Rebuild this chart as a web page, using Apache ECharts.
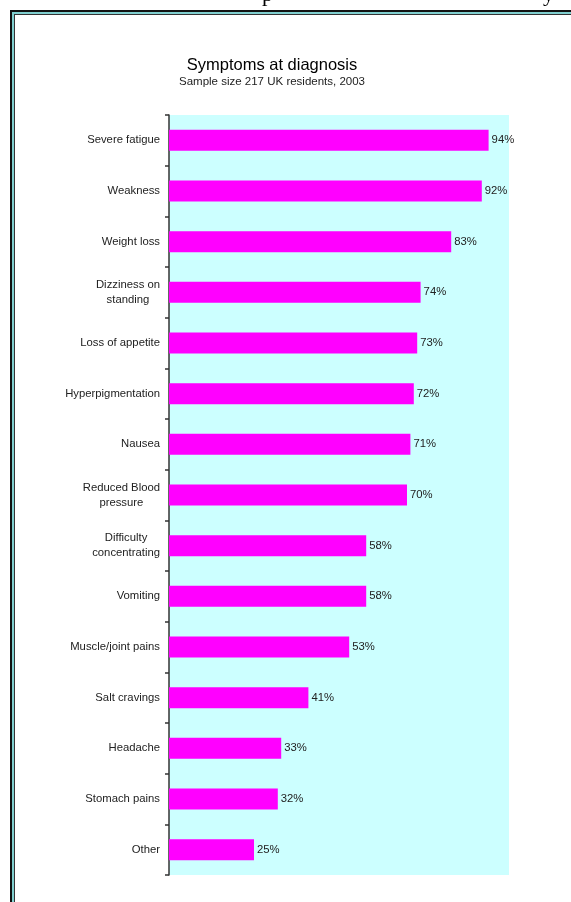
<!DOCTYPE html>
<html>
<head>
<meta charset="utf-8">
<script src="https://cdn.jsdelivr.net/npm/echarts@6/dist/echarts.min.js"></script>
<style>html,body{margin:0;padding:0;background:#fff;}#c{width:571px;height:902px;}</style>
</head>
<body>
<div id="c"></div>
<script>
const categories = ["Severe fatigue","Weakness","Weight loss","Dizziness on\nstanding","Loss of appetite","Hyperpigmentation","Nausea","Reduced Blood\npressure","Difficulty\nconcentrating","Vomiting","Muscle/joint pains","Salt cravings","Headache","Stomach pains","Other"];
const values = [94,92,83,74,73,72,71,70,58,58,53,41,33,32,25];
const titleText = "Symptoms at diagnosis";
const subtitleText = "Sample size 217 UK residents, 2003";

const FONT = '"Liberation Sans", Arial, sans-serif';
const chart = echarts.init(document.getElementById('c'), null, {renderer:'canvas'});
chart.setOption({
  backgroundColor: '#ffffff',
  animation: false,
  graphic: [
    {type:'rect', z:-10, shape:{x:10,y:10,width:700,height:1000}, style:{fill:'#111'}},
    {type:'rect', z:-10, shape:{x:12,y:12,width:700,height:1000}, style:{fill:'#80cfcf'}},
    {type:'rect', z:-10, shape:{x:14,y:14,width:700,height:1000}, style:{fill:'#333'}},
    {type:'rect', z:-10, shape:{x:15,y:15,width:700,height:1000}, style:{fill:'#ffffff'}},
    {type:'text', z:-9, x:262, y:-16, style:{text:'p', font:'22px "Liberation Serif", serif', fill:'#000'}},
    {type:'text', z:-9, x:543, y:-16, style:{text:'y', font:'22px "Liberation Serif", serif', fill:'#000'}},
    {type:'text', x:272, y:65, style:{text:titleText, font:'16.5px ' + FONT, fill:'#000', align:'center', verticalAlign:'middle'}},
    {type:'text', x:272, y:82, style:{text:subtitleText, font:'11.5px ' + FONT, fill:'#222', align:'center', verticalAlign:'middle'}}
  ],
  grid: {left:169, right:62, top:115, bottom:27, show:true, backgroundColor:'#ccffff', borderWidth:0},
  xAxis: {type:'value', min:0, max:100, show:false},
  yAxis: {
    type:'category', data:categories, inverse:true,
    axisLine:{show:true, lineStyle:{color:'#333', width:1.5}},
    axisTick:{show:true, length:4, lineStyle:{color:'#333', width:1.5}},
    axisLabel:{
      margin:9, color:'#222', fontFamily:FONT, fontSize:11.3, align:'right',
      formatter: v => v.split('\n').map(l => '{a|' + l + '}').join('\n'),
      rich:{a:{align:'center', fontFamily:FONT, fontSize:11.3, lineHeight:15, color:'#222'}}
    },
    splitLine:{show:false}
  },
  series: [{
    type:'bar', data:values, barWidth:21,
    itemStyle:{color:'#ff00ff'},
    label:{show:true, position:'right', distance:3, formatter:'{c}%', color:'#222', fontFamily:FONT, fontSize:11.3}
  }]
});
</script>
</body>
</html>
